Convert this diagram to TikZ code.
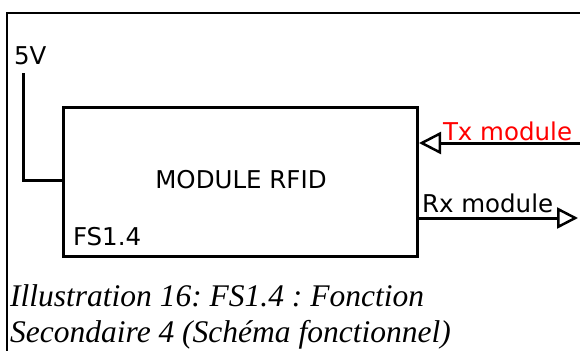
\documentclass[tikz,border=0pt]{standalone}
\usepackage{fontspec}
\setmainfont{DejaVu Sans}
\newfontfamily\capfont{Liberation Serif}
\usetikzlibrary{arrows.meta}
\frenchspacing
\definecolor{txred}{RGB}{255,0,0}
\tikzset{
  lbl/.style={inner sep=0pt, outer sep=0pt, font=\fontsize{24.5}{28}\selectfont},
  wire/.style={line width=3pt},
  tri/.style={-{Triangle[open, length=22pt, width=22pt, line width=2.5pt]}},
  tri2/.style={-{Triangle[open, length=21pt, width=21pt, line width=2.5pt]}},
}
\begin{document}
\begin{tikzpicture}[x=1pt,y=1pt]
\useasboundingbox (0,0) rectangle (580,-351);
% frame
\draw[line width=1.2pt] (580,-13) -- (7,-13) -- (7,-351);
% main box
\node[draw, line width=3pt, minimum width=354pt, minimum height=149pt, inner sep=0pt, anchor=north west] (box) at (62,-106) {};
\node[lbl, anchor=base] (title) at (241,-188) {MODULE RFID};
\node[lbl, anchor=base west] (fs) at (73,-245) {FS1.4};
% 5V input
\node[lbl, anchor=base west] (v5) at (14,-64) {5V};
\coordinate (v5top) at (23,-73);
\coordinate (v5corner) at (23,-180);
\draw[wire] (v5top) -- (v5corner) -- (v5corner -| box.west);
% Tx input
\coordinate (txstart) at (580,-143);
\draw[wire, tri] (txstart) -- (box.east |- txstart);
\node[lbl, anchor=base west, text=txred] (tx) at (443,-140) {Tx module};
% Rx output
\coordinate (rxend) at (578,-218);
\draw[wire, tri2] (box.east |- rxend) -- (rxend);
\node[lbl, anchor=base west] (rx) at (422,-212) {Rx module};
% caption
\node[inner sep=0pt, anchor=base west, align=left, font=\capfont\itshape\fontsize{31.5}{36}\selectfont] (cap) at (10,-342) {Illustration 16: FS1.4 : Fonction\\Secondaire 4 (Schéma fonctionnel)};
\end{tikzpicture}
\end{document}
